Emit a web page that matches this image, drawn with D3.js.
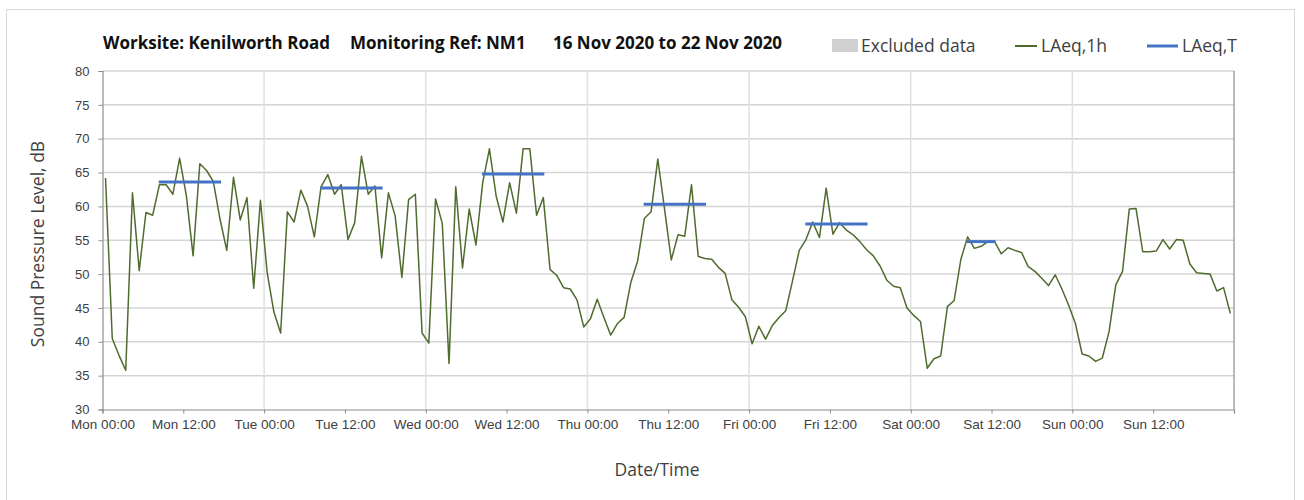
<!DOCTYPE html>
<html>
<head>
<meta charset="utf-8">
<script src="https://cdn.jsdelivr.net/npm/d3@7"></script>
<style>
  html, body { margin: 0; padding: 0; background: #fff; }
  svg { display: block; font-family: "Open Sans", "Noto Sans", sans-serif; }
</style>
</head>
<body>
<svg id="chart" width="1304" height="500"></svg>
<script>
// ---------------- data ----------------
const startDate = "2020-11-16T00:00:00";
// Hourly LAeq,1h values (dB), Mon 00:00 .. Sun 23:00
const laeq1h = [
  64.2, 40.5, 38.0, 35.8, 62.0, 50.5, 59.1, 58.7, 63.2, 63.2, 61.8, 67.1,
  61.6, 52.7, 66.3, 65.3, 63.7, 58.1, 53.5, 64.3, 58.0, 61.3, 47.9, 60.9,
  50.2, 44.4, 41.3, 59.2, 57.7, 62.4, 60.0, 55.5, 62.9, 64.7, 61.8, 63.2,
  55.1, 57.6, 67.4, 61.8, 63.0, 52.4, 62.0, 58.6, 49.5, 61.0, 61.8, 41.3,
  39.8, 61.1, 57.5, 36.8, 62.9, 50.9, 59.6, 54.3, 63.5, 68.5, 61.5, 57.7,
  63.5, 59.0, 68.5, 68.5, 58.7, 61.3, 50.7, 49.8, 48.0, 47.8, 46.2, 42.2,
  43.4, 46.3, 43.6, 41.0, 42.7, 43.6, 48.8, 51.9, 58.2, 59.2, 67.0, 59.6,
  52.1, 55.8, 55.6, 63.2, 52.6, 52.3, 52.2, 51.0, 50.1, 46.2, 45.1, 43.7,
  39.7, 42.3, 40.4, 42.4, 43.6, 44.6, 49.0, 53.5, 55.1, 57.7, 55.4, 62.7,
  55.9, 57.6, 56.5, 55.8, 54.8, 53.6, 52.7, 51.2, 49.1, 48.2, 48.0, 45.0,
  43.9, 43.0, 36.1, 37.5, 37.9, 45.2, 46.1, 52.2, 55.5, 53.8, 54.1, 54.8,
  54.8, 53.0, 53.9, 53.5, 53.2, 51.1, 50.4, 49.4, 48.3, 49.9, 47.8, 45.4,
  42.7, 38.2, 37.9, 37.1, 37.6, 41.5, 48.4, 50.4, 59.6, 59.7, 53.3, 53.3,
  53.4, 55.1, 53.7, 55.1, 55.0, 51.5, 50.2, 50.1, 50.0, 47.5, 48.0, 44.2
];
// LAeq,T periods: day index, first hour, last hour (inclusive), level
const periodDay   = [0, 1, 2, 3, 4, 5];
const periodFirst = [8, 8, 8, 8, 8, 8];
const periodLast  = [17, 17, 17, 17, 17, 12];
const periodLevel = [63.6, 62.7, 64.8, 60.3, 57.4, 54.8];

const yTicks = [30, 35, 40, 45, 50, 55, 60, 65, 70, 75, 80];
const dayNames = ["Mon", "Tue", "Wed", "Thu", "Fri", "Sat", "Sun"];
const titleParts = ["Worksite: Kenilworth Road", "Monitoring Ref: NM1", "16 Nov 2020 to 22 Nov 2020"];
const legendLabels = ["Excluded data", "LAeq,1h", "LAeq,T"];
const yTitle = "Sound Pressure Level, dB";
const xTitle = "Date/Time";

// ---------------- layout ----------------
const svg = d3.select("#chart");
const plot = { left: 102.5, right: 1234, top: 71, bottom: 409.5 };

const t0 = new Date(startDate);
const HOUR = 3600 * 1000;
const tEnd = new Date(t0.getTime() + 7 * 24 * HOUR);

const x = d3.scaleTime().domain([t0, tEnd]).range([plot.left, plot.right]);
const y = d3.scaleLinear().domain([30, 80]).range([plot.bottom, plot.top]);

const gridColor = "#d4d4d4";
const vGridColor = "#e0e0e0";
const axisColor = "#8c8c8c";
const textColor = "#404040";

// outer border
svg.append("rect").attr("x", 6.5).attr("y", 9.5).attr("width", 1288).attr("height", 500)
  .attr("fill", "none").attr("stroke", "#d9d9d9").attr("stroke-width", 1);

// ticks at every 12 hours
const tickTimes = d3.range(0, 7 * 24 + 1, 12).map(h => new Date(t0.getTime() + h * HOUR));
const majorTimes = tickTimes.filter((d, i) => i % 2 === 0);

// horizontal gridlines
svg.append("g").selectAll("line").data(yTicks.filter(v => v > 30)).join("line")
  .attr("x1", plot.left).attr("x2", plot.right)
  .attr("y1", d => y(d)).attr("y2", d => y(d))
  .attr("stroke", gridColor).attr("stroke-width", 1.5);

// vertical gridlines at 00:00
svg.append("g").selectAll("line").data(majorTimes.slice(1, -1)).join("line")
  .attr("x1", d => x(d)).attr("x2", d => x(d))
  .attr("y1", plot.top).attr("y2", plot.bottom)
  .attr("stroke", vGridColor).attr("stroke-width", 1.5);

// right border of plot
svg.append("line").attr("x1", plot.right).attr("x2", plot.right)
  .attr("y1", plot.top).attr("y2", plot.bottom)
  .attr("stroke", axisColor).attr("stroke-width", 1.2);

// y axis
const yAxis = d3.axisLeft(y).tickValues(yTicks).tickSize(4).tickPadding(9)
  .tickFormat(d3.format("d"));
const gy = svg.append("g").attr("transform", `translate(${plot.left},0)`).call(yAxis);
gy.select(".domain").attr("stroke", axisColor).attr("stroke-width", 1.2);
gy.selectAll(".tick line").attr("stroke", axisColor);
gy.selectAll("text").attr("fill", textColor).style("font-size", "13px");

// x axis
const fmtTick = d => dayNames[Math.floor((d - t0) / (24 * HOUR))] + " " + d3.timeFormat("%H:%M")(d);
const xAxis = d3.axisBottom(x).tickValues(tickTimes).tickSize(4).tickPadding(6)
  .tickFormat(d => (d < tEnd ? fmtTick(d) : ""));
const gx = svg.append("g").attr("transform", `translate(0,${plot.bottom})`).call(xAxis);
gx.select(".domain").attr("stroke", axisColor).attr("stroke-width", 1.2);
gx.selectAll(".tick line").attr("stroke", axisColor);
gx.selectAll("text").attr("fill", textColor).style("font-size", "13.5px");

// LAeq,1h line
const pts = laeq1h.map((v, i) => ({ t: new Date(t0.getTime() + (i + 0.45) * HOUR), v }));
svg.append("path").datum(pts)
  .attr("fill", "none").attr("stroke", "#4f6b2e").attr("stroke-width", 1.5)
  .attr("stroke-linejoin", "round")
  .attr("d", d3.line().x(d => x(d.t)).y(d => y(d.v)));

// LAeq,T segments
const periods = periodDay.map((d, i) => ({
  a: new Date(t0.getTime() + (d * 24 + periodFirst[i] + 0.35) * HOUR),
  b: new Date(t0.getTime() + (d * 24 + periodLast[i] + 0.6) * HOUR),
  v: periodLevel[i]
}));
svg.append("g").selectAll("line").data(periods).join("line")
  .attr("x1", d => x(d.a)).attr("x2", d => x(d.b))
  .attr("y1", d => y(d.v)).attr("y2", d => y(d.v))
  .attr("stroke", "#4472c4").attr("stroke-width", 3);

// title
const titleX = [103, 350, 553];
svg.append("g").selectAll("text").data(titleParts).join("text")
  .attr("x", (d, i) => titleX[i]).attr("y", 49)
  .attr("font-weight", "bold").style("font-size", "17px").attr("fill", "#111")
  .text(d => d);

// legend
const lg = svg.append("g");
lg.append("rect").attr("x", 832).attr("y", 39).attr("width", 26).attr("height", 13).attr("fill", "#d0d0d0");
lg.append("line").attr("x1", 1015).attr("x2", 1037).attr("y1", 46).attr("y2", 46)
  .attr("stroke", "#4f6b2e").attr("stroke-width", 2);
lg.append("line").attr("x1", 1147).attr("x2", 1178).attr("y1", 46).attr("y2", 46)
  .attr("stroke", "#4472c4").attr("stroke-width", 3);
const legendX = [861, 1041, 1182];
lg.selectAll("text").data(legendLabels).join("text")
  .attr("x", (d, i) => legendX[i]).attr("y", 52)
  .style("font-size", "17.5px").attr("fill", textColor).text(d => d);

// axis titles
svg.append("text").attr("transform", `translate(44,244) rotate(-90)`)
  .attr("text-anchor", "middle").style("font-size", "17.5px").attr("fill", textColor).text(yTitle);
svg.append("text").attr("x", 657).attr("y", 476)
  .attr("text-anchor", "middle").style("font-size", "17.5px").attr("fill", textColor).text(xTitle);
</script>
</body>
</html>
